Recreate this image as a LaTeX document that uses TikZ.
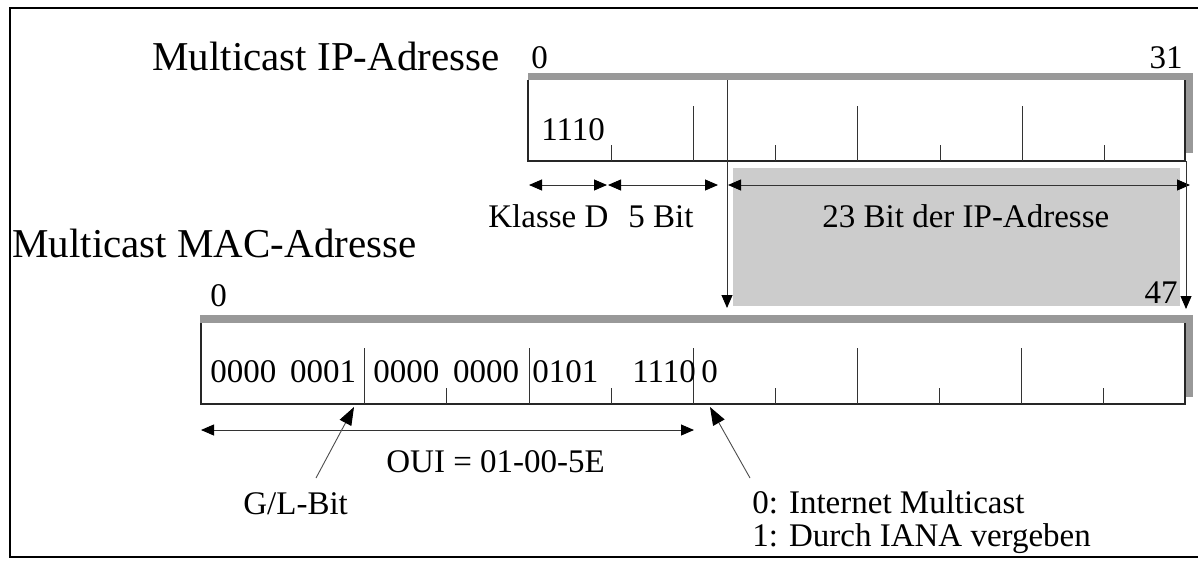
\documentclass[tikz,border=0pt]{standalone}
\usepackage{fontspec}
\setmainfont{Liberation Serif}
\usetikzlibrary{arrows.meta}
\begin{document}
\begin{tikzpicture}[x=0.5pt,y=-0.5pt,
  frameline/.style={line width=1.2pt, black},
  boxline/.style={line width=0.6pt, black!85},
  tickline/.style={line width=0.45pt, black!80},
  bar/.style={fill=black!40, draw=none},
  greyarea/.style={fill=black!20, draw=none},
  dimarrow/.style={line width=0.45pt, black!80, {Triangle[length=6.5pt,width=5.5pt,color=black]}-{Triangle[length=6.5pt,width=5.5pt,color=black]}},
  downarrow/.style={line width=0.45pt, black!80, -{Triangle[length=6.5pt,width=5.5pt,color=black]}},
  ptr/.style={line width=0.45pt, black!70, -{Triangle[length=9pt,width=6.5pt,color=black]}},
  title/.style={font=\fontsize{20.5}{24}\selectfont, inner sep=0pt, anchor=base west},
  lbl/.style={font=\fontsize{16.5}{20}\selectfont, inner sep=0pt, anchor=base west},
  lblr/.style={font=\fontsize{16.5}{20}\selectfont, inner sep=0pt, anchor=base east}
]
\useasboundingbox (0,0) rectangle (1198,563);

% outer frame
\draw[frameline] (1198,8) -- (10,8) -- (10,557) -- (1198,557);

% ---------- IP address ----------
\node[title] (iptitle) at (152,70) {Multicast IP-Adresse};
\node[lbl] (ip0) at (531,68) {0};
\node[lblr] (ip31) at (1183,68) {31};
\fill[bar] (528,73) rectangle (1193,80);
\fill[bar] (1185,73) rectangle (1193,153);
\draw[boxline] (528,80) -- (528,161) -- (1185,161) -- (1185,80);
\foreach \x in {611,775,940,1104} \draw[tickline] (\x,145) -- (\x,161);
\foreach \x in {693,857,1022} \draw[tickline] (\x,106) -- (\x,161);
\draw[tickline] (727,80) -- (727,161);
\node[lbl] (ipbits) at (541,140) {1110};

% grey mapping area
\fill[greyarea] (733,168) rectangle (1180,306);

% dimension arrows
\coordinate (kA) at (529,185);
\coordinate (kB) at (607,185);
\coordinate (fA) at (608,185);
\coordinate (fB) at (718,185);
\coordinate (tA) at (728,185);
\coordinate (tB) at (1190,185);
\draw[dimarrow] (kA) -- (kB);
\draw[dimarrow] (fA) -- (fB);
\draw[dimarrow] (tA) -- (tB);
\node[lbl] (klasse) at (488,227) {Klasse D};
\node[lbl] (fuenf) at (628,227) {5 Bit};
\node[lbl] (dreiz) at (822,227) {23 Bit der IP-Adresse};

% down arrows
\coordinate (dL0) at (727,161);
\coordinate (dL1) at (727,308);
\coordinate (dR0) at (1186,161);
\coordinate (dR1) at (1186,309);
\draw[downarrow] (dL0) -- (dL1);
\draw[downarrow] (dR0) -- (dR1);

% ---------- MAC address ----------
\node[title] (mactitle) at (12,257) {Multicast MAC-Adresse};
\node[lbl] (mac0) at (210,306) {0};
\node[lblr] (mac47) at (1178,303) {47};
\fill[bar] (200,315) rectangle (1193,323);
\fill[bar] (1185,315) rectangle (1193,397);
\draw[boxline] (201,323) -- (201,404) -- (1185,404) -- (1185,323);
\foreach \x in {446,611,775,939,1103} \draw[tickline] (\x,388) -- (\x,404);
\foreach \x in {364,529,693,857,1021} \draw[tickline] (\x,348) -- (\x,404);
\node[lbl] (m1) at (210,382) {0000\hspace{0.42em}0001};
\node[lbl] (m2) at (373,382) {0000\hspace{0.42em}0000};
\node[lbl] (m3) at (532,382) {0101};
\node[lbl] (m4) at (632,382) {1110};
\node[lbl] (m5) at (701,382) {0};

% OUI arrow
\coordinate (oA) at (201,430);
\coordinate (oB) at (694,430);
\draw[dimarrow] (oA) -- (oB);
\node[lbl] (oui) at (386,472) {OUI = 01-00-5E};

% G/L bit pointer
\node[lbl] (gl) at (243,514) {G/L-Bit};
\coordinate (glT) at (316,478);
\coordinate (glH) at (354,407);
\draw[ptr] (glT) -- (glH);

% multicast bit pointer
\node[lbl] (im0) at (752,513) {0: Internet Multicast};
\node[lbl] (im1) at (752,546) {1: Durch IANA vergeben};
\coordinate (imT) at (750,478);
\coordinate (imH) at (710,407);
\draw[ptr] (imT) -- (imH);
\end{tikzpicture}
\end{document}
